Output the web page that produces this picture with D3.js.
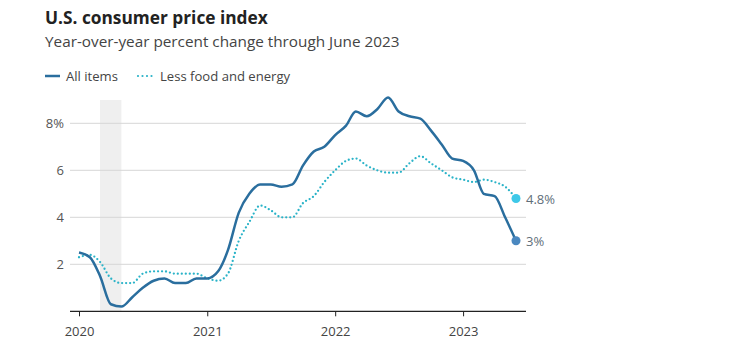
<!DOCTYPE html>
<html><head><meta charset="utf-8">
<script src="https://cdn.jsdelivr.net/npm/d3@7"></script>
<style>
body{margin:0;background:#fff;}
svg{font-family:"Open Sans",sans-serif;}
</style></head>
<body><svg id="c" width="734" height="352"></svg>
<script>
const months = d3.range(42).map(i => new Date(2020, i, 1));
const allItems = [2.5,2.3,1.5,0.3,0.2,0.6,1.0,1.3,1.4,1.2,1.2,1.4,
  1.4,1.7,2.6,4.2,5.0,5.4,5.4,5.3,5.4,6.2,6.8,7.0,
  7.5,7.9,8.5,8.3,8.6,9.1,8.5,8.3,8.2,7.7,7.1,6.5,
  6.4,6.0,5.0,4.9,4.0,3.0];
const core = [2.3,2.4,2.1,1.4,1.2,1.2,1.6,1.7,1.7,1.6,1.6,1.6,
  1.4,1.3,1.6,3.0,3.8,4.5,4.3,4.0,4.0,4.6,4.9,5.5,
  6.0,6.4,6.5,6.2,6.0,5.9,5.9,6.3,6.6,6.3,6.0,5.7,
  5.6,5.5,5.6,5.5,5.3,4.8];
const yTicks = [2,4,6,8];
const xTicks = [2020,2021,2022,2023];
const recession = [new Date(2020,2,1), new Date(2020,4,1)];

const svg = d3.select("#c");
const x = d3.scaleTime().domain([new Date(2020,0,1), new Date(2023,5,1)]).range([79,516]);
const y = d3.scaleLinear().domain([0,8]).range([311.3,123.3]);

svg.append("text").attr("x",45).attr("y",24).attr("font-size",17.3).attr("font-weight","bold").attr("fill","#222").text("U.S. consumer price index");
svg.append("text").attr("x",45).attr("y",47).attr("font-size",15.3).attr("fill","#444").text("Year-over-year percent change through June 2023");

// legend
svg.append("line").attr("x1",45).attr("x2",60).attr("y1",76).attr("y2",76).attr("stroke","#2a6e9e").attr("stroke-width",2.5);
svg.append("text").attr("x",66).attr("y",80.5).attr("font-size",13.1).attr("fill","#444").text("All items");
svg.append("line").attr("x1",138).attr("x2",152).attr("y1",76).attr("y2",76).attr("stroke","#2ab3c8").attr("stroke-width",2.2).attr("stroke-dasharray","0,4.5").attr("stroke-linecap","round");
svg.append("text").attr("x",160).attr("y",80.5).attr("font-size",13.1).attr("fill","#444").text("Less food and energy");

// recession
svg.append("rect").attr("x",x(recession[0])).attr("width",x(recession[1])-x(recession[0]))
  .attr("y",100).attr("height",311-100).attr("fill","#efefef");

// grid
const g = svg.append("g");
g.selectAll("line.grid").data(yTicks).join("line").attr("x1",70).attr("x2",526)
  .attr("y1",d=>y(d)).attr("y2",d=>y(d)).attr("stroke","#d6d6d6").attr("stroke-width",1);
g.selectAll("text.yl").data(yTicks).join("text").attr("x",64).attr("y",d=>y(d)+4.5)
  .attr("text-anchor","end").attr("font-size",13).attr("fill","#555").text(d=>d===8?"8%":d);

// x axis
const xa = svg.append("g").attr("transform","translate(0,311.3)")
  .call(d3.axisBottom(x).tickValues(xTicks.map(t=>new Date(t,0,1))).tickFormat(d3.timeFormat("%Y")).tickSize(5));
xa.select(".domain").attr("d","M70,0H526").attr("stroke","#222").attr("stroke-width",1.2);
xa.selectAll(".tick line").attr("stroke","#222");
xa.selectAll(".tick text").attr("font-size",13).attr("fill","#444").attr("dy","1.25em").attr("font-family","Open Sans, sans-serif");

const line = d3.line().x((d,i)=>x(months[i])).y(d=>y(d)).curve(d3.curveMonotoneX);
svg.append("path").attr("d",line(core)).attr("fill","none").attr("stroke","#2ab3c8")
  .attr("stroke-width",2.3).attr("stroke-dasharray","0,4").attr("stroke-linecap","round");
svg.append("path").attr("d",line(allItems)).attr("fill","none").attr("stroke","#2a6e9e").attr("stroke-width",2.5);

const last = months.length-1;
svg.append("circle").attr("cx",x(months[last])).attr("cy",y(core[last])).attr("r",4.5).attr("fill","#3ec8e8");
svg.append("circle").attr("cx",x(months[last])).attr("cy",y(allItems[last])).attr("r",4.5).attr("fill","#4a88c0");
svg.append("text").attr("x",526).attr("y",y(core[last])+5).attr("font-size",13).attr("fill","#5f6f7a").text(core[last]+"%");
svg.append("text").attr("x",526).attr("y",y(allItems[last])+5).attr("font-size",13).attr("fill","#5f6f7a").text(allItems[last]+"%");
</script></body></html>
